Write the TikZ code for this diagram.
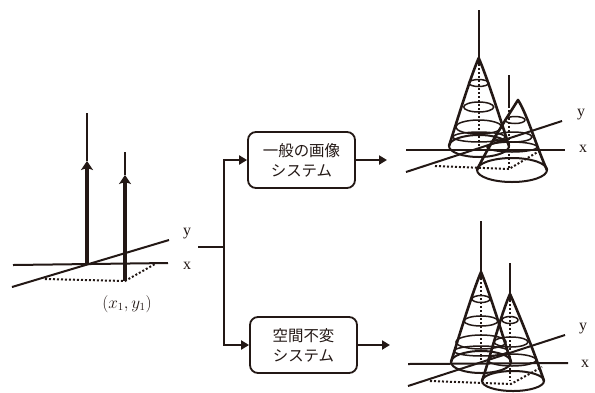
\documentclass[tikz,border=0pt]{standalone}
\usepackage{fontspec}
\setmainfont{Liberation Serif}
\newfontfamily\cjk{Noto Sans CJK JP}
\usetikzlibrary{arrows.meta}
\definecolor{ink}{HTML}{231815}
\tikzset{
  axisline/.style={line width=2bp,ink},
  dotline/.style={line width=2bp,ink,dash pattern=on 2bp off 2bp},
  stem/.style={line width=1.8bp,ink},
  ring/.style={line width=1.5bp,ink},
  side/.style={line width=2.6bp,ink,line join=round},
  basering/.style={line width=2bp,ink},
  flow/.style={line width=2.8bp,ink},
  flowarrow/.style={flow,-{Triangle[length=8bp,width=9bp]}},
  upthick/.style={line width=3.4bp,ink,-{Stealth[length=9bp,width=12bp,inset=2bp]}},
  sysbox/.style={draw=ink,line width=1.8bp,rounded corners=8bp,align=center,font=\cjk\fontsize{15.5}{20}\selectfont,text=ink,inner sep=0pt},
  axlabel/.style={font=\fontsize{16}{16}\selectfont,text=ink,inner sep=0pt}
}
% apexx apexy stemx stemtop basex basey rx ry rings
\newcommand{\conefig}[9]{%
  \pgfmathsetmacro{\hh}{#6-#2}%
  \draw[stem] (#3,#4) -- (#3,#2+6);
  \draw[dotline] (#3,#2+6) -- (#3,#6);
  \draw[side] (#5-#7,#6) .. controls (#5-0.72*#7,#6-0.3*\hh) and (#1-0.28*#7,#2+0.22*\hh) .. (#1,#2)
     .. controls (#1+0.28*#7,#2+0.22*\hh) and (#5+0.72*#7,#6-0.3*\hh) .. (#5+#7,#6);
  \draw[basering] (#5,#6) ellipse [x radius=#7,y radius=#8];
  \foreach \cy/\cx/\rx/\ry in {#9} { \draw[ring] (\cx,\cy) ellipse [x radius=\rx,y radius=\ry]; }
}
\begin{document}
\begin{tikzpicture}[x=1bp,y=-1bp]
\useasboundingbox (0,0) rectangle (595,392);
\fill[white] (0,0) rectangle (595,392);

% left figure
\coordinate (lxa) at (13,265); \coordinate (lxb) at (168,263);
\coordinate (lya) at (12,287); \coordinate (lyb) at (169,240);
\coordinate (ld1) at (45,279); \coordinate (ld2) at (125,281); \coordinate (ld3) at (155,264);
\coordinate (p1b) at (87,264); \coordinate (p1h) at (87,161); \coordinate (p1t) at (87,113);
\coordinate (p2b) at (125,281); \coordinate (p2h) at (125,175); \coordinate (p2t) at (125,152);
\draw[axisline] (lxa) -- (lxb);
\draw[axisline] (lya) -- (lyb);
\draw[dotline] (ld1) -- (ld2) -- (ld3);
\draw[stem] (p1h) -- (p1t);
\draw[stem] (p2h) -- (p2t);
\draw[upthick] (p1b) -- (p1h);
\draw[upthick] (p2b) -- (p2h);
\node[axlabel] (ly) at (187,234) {y};
\node[axlabel] (lx) at (187,266) {x};
\node[font=\fontsize{16}{16}\selectfont,text=ink,inner sep=0pt] (lp) at (127,304) {$(x_1,y_1)$};

% boxes and connectors
\node[sysbox,minimum width=107bp,minimum height=56bp] (b1) at (301.5,160) {一般の画像\\システム};
\node[sysbox,minimum width=107bp,minimum height=56bp] (b2) at (303.5,345) {空間不変\\システム};
\coordinate (src) at (198,247);
\coordinate (jn) at (224,247);
\coordinate (c1) at (387,160);
\coordinate (c2) at (390,345);
\draw[flow] (src) -- (jn);
\draw[flowarrow] (jn) |- (b1.west);
\draw[flowarrow] (jn) |- (b2.west);
\draw[flowarrow] (b1.east) -- (c1);
\draw[flowarrow] (b2.east) -- (c2);

% upper right
\conefig{478.7}{58}{478.7}{10}{479}{146}{30}{11}{83/478.7/10/3.5, 107/478.7/15/5, 127/478.7/23/7, 137/479/26/5}
\conefig{518}{100}{509}{75}{512}{170}{35}{12}{120/515/10/3.5, 137/513/19/5, 147/512/25/5}
\coordinate (uxa) at (406,150); \coordinate (uxb) at (565,150);
\coordinate (uya) at (406,172); \coordinate (uyb) at (562,121);
\coordinate (ud1) at (435,166); \coordinate (ud2) at (509,169); \coordinate (ud3) at (541,150);
\draw[axisline] (uxa) -- (uxb);
\draw[axisline] (uya) -- (uyb);
\draw[dotline] (ud1) -- (ud2) -- (ud3);
\node[axlabel] (uy) at (581,115) {y};
\node[axlabel] (ux) at (583,149) {x};

% lower right
\conefig{481}{272}{481}{221}{481}{362}{30}{11}{299/481/9/3.5, 321/481/17/5, 342/481/25/7, 351/481/27/5}
\conefig{510}{294}{510}{263}{513}{381}{31}{10}{320/510/8/3.5, 342/511/17/5, 360/512/24/6}
\coordinate (dxa) at (408,364); \coordinate (dxb) at (568,363);
\coordinate (dya) at (408,386); \coordinate (dyb) at (565,335);
\coordinate (dd1) at (430,381); \coordinate (dd2) at (511,384); \coordinate (dd3) at (542,367);
\draw[axisline] (dxa) -- (dxb);
\draw[axisline] (dya) -- (dyb);
\draw[dotline] (dd1) -- (dd2) -- (dd3);
\node[axlabel] (dy) at (583,329) {y};
\node[axlabel] (dx) at (585,364) {x};
\end{tikzpicture}
\end{document}
